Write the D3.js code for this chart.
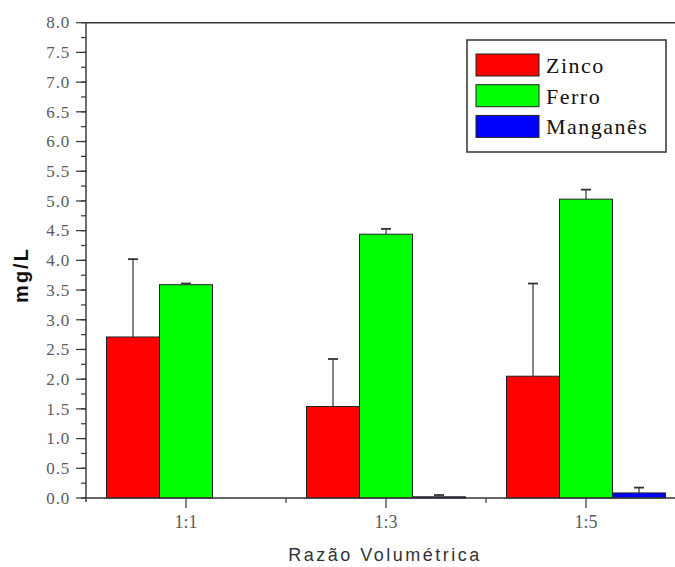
<!DOCTYPE html>
<html>
<head>
<meta charset="utf-8">
<script src="https://cdn.jsdelivr.net/npm/d3@7"></script>
<style>
  html, body { margin: 0; padding: 0; background: #fff; }
  svg { display: block; }
</style>
</head>
<body>
<svg id="chart" width="675" height="567"></svg>
<script>
// ---- data ----
const categories = ["1:1", "1:3", "1:5"];
const seriesNames = ["Zinco", "Ferro", "Manganês"];
const seriesColors = ["#ff0000", "#00ff00", "#0000ff"];
const zinco = [2.71, 1.54, 2.05];
const zincoErr = [1.31, 0.80, 1.56];
const ferro = [3.59, 4.44, 5.03];
const ferroErr = [0.02, 0.09, 0.16];
const manganes = [0.0, 0.02, 0.085];
const manganesErr = [0.0, 0.03, 0.09];
const yTicks = [0, 0.5, 1, 1.5, 2, 2.5, 3, 3.5, 4, 4.5, 5, 5.5, 6, 6.5, 7, 7.5, 8];
const yMinorTicks = d3.range(0, 8.001, 0.25);
const yLabel = "mg/L";
const xLabel = "Razão Volumétrica";

(function () {
const values = [zinco, ferro, manganes];
const errors = [zincoErr, ferroErr, manganesErr];

// ---- layout ----
const svg = d3.select("#chart");
const pLeft = 86, pRight = 686, pTop = 22.7, pBottom = 498;
const axisColor = "#333";
const tickTextColor = "#5a5a5a";

const x = d3.scaleBand().domain(categories).range([pLeft, pRight]).padding(0);
const xs = d3.scaleBand().domain(seriesNames).range([-79.5, 79.5]).padding(0);
const y = d3.scaleLinear().domain([0, 8]).range([pBottom, pTop]);

// bars
const barData = [];
seriesNames.forEach((s, si) => {
  categories.forEach((c, ci) => {
    barData.push({ s, si, c, v: values[si][ci], e: errors[si][ci] });
  });
});
const bx = d => x(d.c) + x.bandwidth() / 2 + xs(d.s);

const g = svg.append("g");
g.selectAll("rect.bar").data(barData.filter(d => d.v > 0)).enter().append("rect")
  .attr("class", "bar")
  .attr("x", bx)
  .attr("y", d => y(d.v))
  .attr("width", xs.bandwidth())
  .attr("height", d => y(0) - y(d.v))
  .attr("fill", d => seriesColors[d.si])
  .attr("stroke", "#222")
  .attr("stroke-width", 1);

// error bars (upper only)
const errG = g.selectAll("g.err").data(barData.filter(d => d.e > 0)).enter().append("g")
  .attr("class", "err")
  .attr("stroke", axisColor)
  .attr("stroke-width", 1.2);
errG.append("line")
  .attr("x1", d => bx(d) + xs.bandwidth() / 2)
  .attr("x2", d => bx(d) + xs.bandwidth() / 2)
  .attr("y1", d => y(d.v))
  .attr("y2", d => y(d.v + d.e));
errG.append("line")
  .attr("x1", d => bx(d) + xs.bandwidth() / 2 - 5)
  .attr("x2", d => bx(d) + xs.bandwidth() / 2 + 5)
  .attr("y1", d => y(d.v + d.e))
  .attr("y2", d => y(d.v + d.e))
  .attr("stroke-width", 1.8);

// top frame
svg.append("line")
  .attr("x1", pLeft).attr("x2", pRight)
  .attr("y1", pTop).attr("y2", pTop)
  .attr("stroke", axisColor).attr("stroke-width", 1.4);

// y axis
const yAxisG = svg.append("g");
yAxisG.append("line")
  .attr("x1", pLeft).attr("x2", pLeft)
  .attr("y1", pTop).attr("y2", pBottom + 4)
  .attr("stroke", axisColor).attr("stroke-width", 1.4);
yAxisG.selectAll("line.minor").data(yMinorTicks).enter().append("line")
  .attr("x1", pLeft - 5).attr("x2", pLeft)
  .attr("y1", d => y(d)).attr("y2", d => y(d))
  .attr("stroke", axisColor).attr("stroke-width", 1.2);
yAxisG.selectAll("line.major").data(yTicks).enter().append("line")
  .attr("x1", pLeft - 10).attr("x2", pLeft)
  .attr("y1", d => y(d)).attr("y2", d => y(d))
  .attr("stroke", axisColor).attr("stroke-width", 1.2);
yAxisG.selectAll("text").data(yTicks).enter().append("text")
  .attr("x", pLeft - 16)
  .attr("y", d => y(d))
  .attr("dy", "0.34em")
  .attr("text-anchor", "end")
  .attr("font-family", "'Liberation Serif', 'Times New Roman', serif")
  .attr("font-size", 17)
  .attr("letter-spacing", "0.8px")
  .attr("fill", tickTextColor)
  .text(d => d3.format(".1f")(d));

// x axis
const xAxisG = svg.append("g");
xAxisG.append("line")
  .attr("x1", pLeft).attr("x2", pRight)
  .attr("y1", pBottom).attr("y2", pBottom)
  .attr("stroke", axisColor).attr("stroke-width", 1.4);
xAxisG.selectAll("line.major").data(categories).enter().append("line")
  .attr("x1", d => x(d) + x.bandwidth() / 2).attr("x2", d => x(d) + x.bandwidth() / 2)
  .attr("y1", pBottom).attr("y2", pBottom + 10)
  .attr("stroke", axisColor).attr("stroke-width", 1.2);
xAxisG.selectAll("line.minor").data(categories.slice(1)).enter().append("line")
  .attr("x1", d => x(d)).attr("x2", d => x(d))
  .attr("y1", pBottom).attr("y2", pBottom + 5)
  .attr("stroke", axisColor).attr("stroke-width", 1.2);
xAxisG.selectAll("text").data(categories).enter().append("text")
  .attr("x", d => x(d) + x.bandwidth() / 2)
  .attr("y", 528)
  .attr("text-anchor", "middle")
  .attr("font-family", "'Liberation Serif', 'Times New Roman', serif")
  .attr("font-size", 18)
  .attr("fill", tickTextColor)
  .text(d => d);

// axis titles
svg.append("text")
  .attr("x", 385).attr("y", 561)
  .attr("text-anchor", "middle")
  .attr("font-family", "'Liberation Sans', Arial, sans-serif")
  .attr("font-size", 18)
  .attr("letter-spacing", "2.5px")
  .attr("fill", "#333")
  .text(xLabel);

svg.append("text")
  .attr("transform", "translate(27.5,275) rotate(-90)")
  .attr("text-anchor", "middle")
  .attr("font-family", "'Liberation Sans', Arial, sans-serif")
  .attr("font-size", 20)
  .attr("font-weight", "bold")
  .attr("letter-spacing", "2px")
  .attr("fill", "#111")
  .text(yLabel);

// legend
const lg = svg.append("g");
lg.append("rect")
  .attr("x", 467).attr("y", 40).attr("width", 199).attr("height", 112)
  .attr("fill", "#fff").attr("stroke", axisColor).attr("stroke-width", 1.5);
const rowTops = [54, 84.7, 115.4];
seriesNames.forEach((s, i) => {
  lg.append("rect")
    .attr("x", 476).attr("y", rowTops[i]).attr("width", 63).attr("height", 22)
    .attr("fill", seriesColors[i]).attr("stroke", "#222").attr("stroke-width", 1);
  lg.append("text")
    .attr("x", 546).attr("y", rowTops[i] + 19)
    .attr("font-family", "'Liberation Serif', 'Times New Roman', serif")
    .attr("font-size", 22)
    .attr("letter-spacing", "1.5px")
    .attr("fill", "#111")
    .text(s);
});
})();
</script>
</body>
</html>
